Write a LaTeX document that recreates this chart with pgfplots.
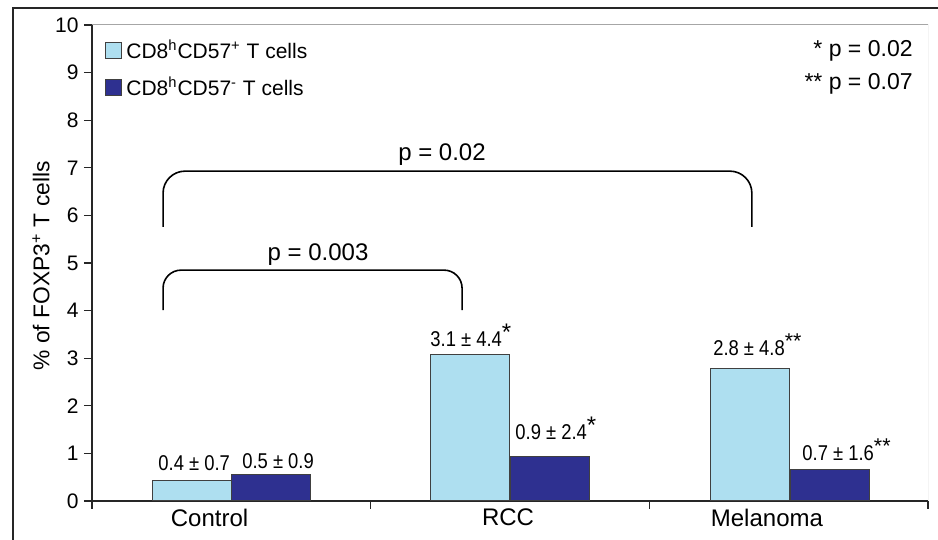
\documentclass[border=0pt]{standalone}
\usepackage{fontspec}
\setmainfont{Liberation Sans}
\usepackage{graphicx}
\usepackage{pgfplots}
\pgfplotsset{compat=1.18}
\definecolor{lightbar}{HTML}{AEDFF0}
\definecolor{darkbar}{HTML}{2E3090}
\newcommand{\blab}[1]{\scalebox{0.86}[1]{#1}}
\begin{document}
\begin{tikzpicture}
\begin{axis}[
  at={(46pt,19.5pt)}, anchor=south west,
  scale only axis, width=418pt, height=238pt,
  xmin=0, xmax=3, ymin=0, ymax=10,
  axis x line*=bottom, axis y line*=left,
  axis line style={line width=0.6pt, black!85, -},
  ytick={0,1,...,10},
  xtick={0,1,2,3}, xticklabels={},
  tick align=outside,
  major tick length=4pt,
  tick style={line width=0.6pt, black!85},
  yticklabel style={font=\fontsize{10.5}{12}\selectfont, inner sep=2.5pt},
  extra x ticks={0.422,1.493,2.422},
  extra x tick labels={Control,RCC,Melanoma},
  extra x tick style={major tick length=0pt, xticklabel style={font=\fontsize{12}{14}\selectfont, yshift=-0.5pt}},
  /pgf/number format/assume math mode=true,
  ylabel={\% of FOXP3\textsuperscript{+} T cells},
  ylabel style={font=\fontsize{11.4}{13}\selectfont, at={(axis description cs:-0.0610,0.494)}, anchor=center},
  legend style={draw=none, fill=none, at={(rel axis cs:0.0155,0.978)}, anchor=north west,
    font=\fontsize{10.5}{12}\selectfont, row sep=3.5pt, inner sep=0pt},
  legend cell align=left,
  legend image code/.code={\draw[#1, line width=0.5pt] (0pt,-4pt) rectangle (8pt,4pt);},
]
\addplot[ybar, bar width=0.2835, bar shift=0pt, fill=lightbar, draw=black!75, line width=0.5pt]
  coordinates {(0.3606,0.44) (1.3564,3.07) (2.3612,2.79)};
\addlegendentry{CD8\textsuperscript{h}CD57\textsuperscript{+} T cells}
\addplot[ybar, bar width=0.2835, bar shift=0pt, fill=darkbar, draw=black!75, line width=0.5pt]
  coordinates {(0.6423,0.55) (1.6435,0.94) (2.6483,0.67)};
\addlegendentry{CD8\textsuperscript{h}CD57\textsuperscript{-} T cells}

\draw[gray!70, line width=0.5pt] (axis cs:0,10) -- (axis cs:3,10) -- (axis cs:3,0);

\begin{scope}[every node/.style={font=\fontsize{10.7}{12}\selectfont, inner sep=0pt}]
\node[anchor=base west] at (axis cs:0.237,0.651) {\blab{0.4 ± 0.7}};
\node[anchor=base west] at (axis cs:0.538,0.693) {\blab{0.5 ± 0.9}};
\node[anchor=base west] at (axis cs:1.213,3.256) {\blab{3.1 ± 4.4}\raisebox{3pt}{\large *}};
\node[anchor=base west] at (axis cs:1.518,1.282) {\blab{0.9 ± 2.4}\raisebox{3pt}{\large *}};
\node[anchor=base west] at (axis cs:2.228,3.067) {\blab{2.8 ± 4.8}\raisebox{3.5pt}{**}};
\node[anchor=base west] at (axis cs:2.548,0.861) {\blab{0.7 ± 1.6}\raisebox{3.5pt}{**}};
\end{scope}

\draw[line width=0.8pt, rounded corners=11pt] (axis cs:0.255,5.76) -- (axis cs:0.255,6.93) -- (axis cs:2.368,6.93) -- (axis cs:2.368,5.76);
\draw[line width=0.8pt, rounded corners=9pt] (axis cs:0.255,4.01) -- (axis cs:0.255,4.85) -- (axis cs:1.328,4.85) -- (axis cs:1.328,4.01);
\node[anchor=base, font=\fontsize{12}{14}\selectfont, inner sep=0pt] at (axis cs:1.256,7.16) {p = 0.02};
\node[anchor=base, font=\fontsize{12}{14}\selectfont, inner sep=0pt] at (axis cs:0.811,5.06) {p = 0.003};
\end{axis}

\node[anchor=base east, font=\fontsize{11.5}{13}\selectfont, inner sep=0pt] at (456.5pt,241.5pt) {* p = 0.02};
\node[anchor=base east, font=\fontsize{11.5}{13}\selectfont, inner sep=0pt] at (456.5pt,225pt) {** p = 0.07};

\draw[line width=1pt, black!85] (6.5pt,-10pt) -- (6.5pt,266pt) -- (480pt,266pt);

\pgfresetboundingbox
\useasboundingbox (0pt,0pt) rectangle (469pt,270pt);
\end{tikzpicture}
\end{document}
